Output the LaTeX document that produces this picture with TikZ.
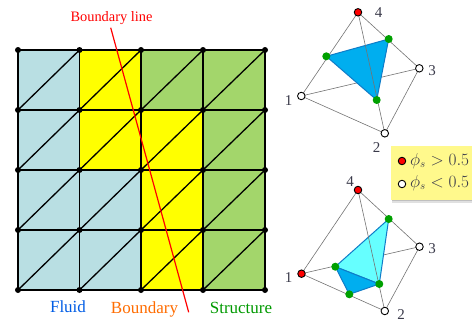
\documentclass[tikz,border=0pt]{standalone}
\usepackage{fontspec}
\setmainfont{Liberation Serif}
\definecolor{fluidc}{HTML}{B9DFE3}
\definecolor{structc}{HTML}{A3D66B}
\definecolor{bndc}{HTML}{FFFF00}
\definecolor{gdot}{HTML}{00A000}
\definecolor{triA}{HTML}{00AEEF}
\definecolor{triB}{HTML}{66FFFF}
\definecolor{triE}{HTML}{0F7CC8}
\definecolor{numc}{HTML}{3A3A4A}
\tikzset{
 x=1pt,y=-1pt,
 meshdot/.style={circle,fill=black,inner sep=0pt,minimum size=6pt},
 meshline/.style={black,line width=1.3pt},
 tet/.style={draw=black!55,line width=0.6pt},
 red dot/.style={circle,draw=black,fill=red,line width=0.9pt,inner sep=0pt,minimum size=7.5pt},
 white dot/.style={circle,draw=black,fill=white,line width=0.9pt,inner sep=0pt,minimum size=7.5pt},
 green dot/.style={circle,fill=gdot,inner sep=0pt,minimum size=8pt},
 lab/.style={font=\fontsize{14.4}{16}\selectfont,inner sep=0pt},
 biglab/.style={font=\fontsize{17}{19}\selectfont,inner sep=0pt},
 leglab/.style={font=\fontsize{16}{18}\selectfont,inner sep=0pt,text=numc},
 num/.style={font=\fontsize{15}{17}\selectfont,text=numc,inner sep=0pt},
 sheet/.style={draw=triE,line width=1pt,line join=round},
}
\begin{document}
\begin{tikzpicture}
\useasboundingbox (0,0) rectangle (472,322);
% mesh coordinates
\foreach \i/\x in {0/18,1/79.5,2/141,3/203,4/265}
  \foreach \j/\y in {0/50,1/110,2/170,3/230,4/290}
    \coordinate (p\i\j) at (\x,\y);
% cells
\foreach \i/\j/\c in {0/0/fluidc,1/0/bndc,2/0/structc,3/0/structc,
                      0/1/fluidc,1/1/bndc,2/1/bndc,3/1/structc,
                      0/2/fluidc,1/2/fluidc,2/2/bndc,3/2/structc,
                      0/3/fluidc,1/3/fluidc,2/3/bndc,3/3/structc}{
  \pgfmathtruncatemacro{\ii}{\i+1}\pgfmathtruncatemacro{\jj}{\j+1}
  \fill[\c] (p\i\j) rectangle (p\ii\jj);
}
% mesh lines
\foreach \i in {0,...,4}{
  \draw[meshline] (p\i0) -- (p\i4);
  \draw[meshline] (p0\i) -- (p4\i);
}
\foreach \i in {0,...,3}\foreach \j in {0,...,3}{
  \pgfmathtruncatemacro{\ii}{\i+1}\pgfmathtruncatemacro{\jj}{\j+1}
  \draw[meshline] (p\i\jj) -- (p\ii\j);
}
\foreach \i in {0,...,4}\foreach \j in {0,...,4}
  \node[meshdot] (m\i\j) at (p\i\j) {};
% boundary line
\node[lab,text=red] (bl) at (111.5,18) {Boundary line};
\coordinate (bla) at (110.7,27.7);
\coordinate (blb) at (188.7,312.3);
\draw[red,line width=1.2pt] (bla) -- (blb);
\node[biglab,text=blue!60!cyan!90!black] (fl) at (68,307) {Fluid};
\node[biglab,text=orange!85!red] (bo) at (144.5,309.5) {Boundary};
\node[biglab,text=green!60!black] (st) at (241,308) {Structure};
% upper tetrahedron
\coordinate (a1) at (301.3,96);
\coordinate (a2) at (384.8,133.3);
\coordinate (a3) at (419.3,68.3);
\coordinate (a4) at (358,12.3);
\coordinate (ae) at (388.7,39);
\coordinate (af) at (326.3,56.3);
\coordinate (ag) at (376.7,100);
\draw[tet] (a1) -- (a3);
\fill[triA] (ae) -- (af) -- (ag) -- cycle;
\draw[sheet] (ae) -- (af) -- (ag) -- cycle;
\draw[tet] (a1) -- (a2) -- (a3) -- (a4) -- (a1) (a4) -- (a2);
\node[green dot] (ga) at (ae) {};
\node[green dot] (gb) at (af) {};
\node[green dot] (gc) at (ag) {};
\node[white dot] (n1) at (a1) {};
\node[white dot] (n2) at (a2) {};
\node[white dot] (n3) at (a3) {};
\node[red dot] (n4) at (a4) {};
\node[num] (t1) at (288.5,100.5) {1};
\node[num] (t2) at (376.5,148) {2};
\node[num] (t3) at (432,71) {3};
\node[num] (t4) at (378.5,12.5) {4};
% lower tetrahedron
\coordinate (b1) at (301.5,273.7);
\coordinate (b2) at (384.8,311);
\coordinate (b3) at (419.5,246.7);
\coordinate (b4) at (358,190);
\coordinate (be) at (388.7,219);
\coordinate (bf) at (335.3,266.7);
\coordinate (bg) at (379.3,284);
\coordinate (bh) at (349.3,294.3);
\draw[tet] (b1) -- (b3);
\fill[triB] (be) -- (bf) -- (bg) -- cycle;
\draw[sheet] (be) -- (bf) -- (bg) -- cycle;
\fill[triA] (bf) -- (bg) -- (bh) -- cycle;
\draw[sheet] (bf) -- (bg) -- (bh) -- cycle;
\draw[tet] (b1) -- (b2) -- (b3) -- (b4) -- (b1) (b4) -- (b2);
\node[green dot] (gd) at (be) {};
\node[green dot] (ge) at (bf) {};
\node[green dot] (gf) at (bg) {};
\node[green dot] (gg) at (bh) {};
\node[red dot] (k1) at (b1) {};
\node[white dot] (k2) at (b2) {};
\node[white dot] (k3) at (b3) {};
\node[red dot] (k4) at (b4) {};
\node[num] (u1) at (288.5,278) {1};
\node[num] (u2) at (401,314.5) {2};
\node[num] (u3) at (432,249) {3};
\node[num] (u4) at (350,182) {4};
% legend
\fill[black!12] (391.5,147.5) rectangle (473,202.5);
\fill[black!25] (391.5,147.5) rectangle (473,201.2);
\fill[yellow!45] (390.7,146) rectangle (473,200);
\node[red dot] (l1) at (402,161) {};
\node[white dot] (l2) at (402,184) {};
\node[leglab,anchor=west] (lt1) at (410,161) {$\phi_s>0.5$};
\node[leglab,anchor=west] (lt2) at (410,183) {$\phi_s<0.5$};
\end{tikzpicture}
\end{document}
